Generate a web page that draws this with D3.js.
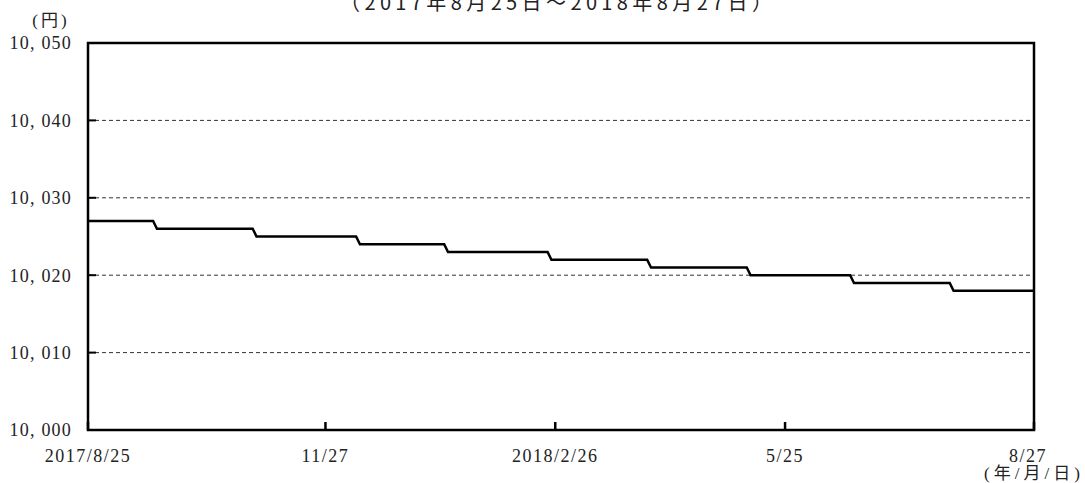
<!DOCTYPE html>
<html lang="ja">
<head>
    <meta charset="UTF-8">
    <title>基準価額の推移</title>
    <script src="https://d3js.org/d3.v7.min.js"></script>
    <style>
        body {
            margin: 0;
            padding: 0;
            background: #fff;
        }
        svg text {
            font-family: "Liberation Serif", "Noto Sans CJK JP", serif;
            fill: #222;
        }
    </style>
</head>
<body>
    <svg width="1085" height="483"></svg>
    <script>
        // 営業日ベース（2017/8/25 = 0 ... 2018/8/27 = 247）
        const lastDay = 247;
        const tickDays = [0, 62, 122, 182, 247];
        const tickLabels = ["2017/8/25", "11/27", "2018/2/26", "5/25", "8/27"];
        const yTicks = [10000, 10010, 10020, 10030, 10040, 10050];
        // 基準価額が変わった営業日と、その価額
        const stepDays = [0, 18, 44, 71, 94, 121, 147, 173, 200, 226];
        const stepValues = [10027, 10026, 10025, 10024, 10023, 10022, 10021, 10020, 10019, 10018];

        const svg = d3.select("svg"),
              margin = {top: 43, right: 51, bottom: 53, left: 88},
              width = +svg.attr("width") - margin.left - margin.right,
              height = +svg.attr("height") - margin.top - margin.bottom,
              g = svg.append("g").attr("transform", `translate(${margin.left},${margin.top})`);

        const x = d3.scaleLinear().domain([0, lastDay]).range([0, width]);
        const y = d3.scaleLinear().domain([10000, 10050]).range([height, 0]);

        // 点線のグリッド
        g.selectAll(".grid")
         .data(yTicks.slice(1, -1))
         .join("line")
         .attr("x1", 0)
         .attr("x2", width)
         .attr("y1", d => y(d))
         .attr("y2", d => y(d))
         .attr("stroke", "#333")
         .attr("stroke-width", 1)
         .attr("stroke-dasharray", "4,3");

        // 左の内向き目盛り
        g.selectAll(".ytick")
         .data(yTicks)
         .join("line")
         .attr("x1", 0)
         .attr("x2", 8)
         .attr("y1", d => y(d))
         .attr("y2", d => y(d))
         .attr("stroke", "#000")
         .attr("stroke-width", 2);

        // 下の内向き目盛り
        g.selectAll(".xtick")
         .data(tickDays)
         .join("line")
         .attr("x1", d => x(d))
         .attr("x2", d => x(d))
         .attr("y1", height)
         .attr("y2", height - 8)
         .attr("stroke", "#000")
         .attr("stroke-width", 2.5);

        // 階段状の線（価額が変わる日は1営業日で斜めに下がる）
        const pts = [];
        stepDays.forEach((d, i) => {
            pts.push([d, stepValues[i]]);
            const next = i + 1 < stepDays.length ? stepDays[i + 1] - 1 : lastDay;
            pts.push([next, stepValues[i]]);
        });
        g.append("path")
         .datum(pts)
         .attr("fill", "none")
         .attr("stroke", "#000")
         .attr("stroke-width", 2.5)
         .attr("d", d3.line().x(d => x(d[0])).y(d => y(d[1])));

        // 枠
        g.append("rect")
         .attr("x", 0)
         .attr("y", 0)
         .attr("width", width)
         .attr("height", height)
         .attr("fill", "none")
         .attr("stroke", "#000")
         .attr("stroke-width", 2.5);

        // y軸ラベル
        const fmt = v => d3.format(",")(v).replace(",", ", ");
        svg.selectAll(".ylabel")
           .data(yTicks)
           .join("text")
           .attr("x", 72)
           .attr("y", d => y(d) + margin.top)
           .attr("dy", "0.35em")
           .attr("text-anchor", "end")
           .attr("letter-spacing", 1.2)
           .style("font-size", "18px")
           .text(fmt);

        svg.append("text")
           .attr("x", 51)
           .attr("y", 26)
           .attr("text-anchor", "middle")
           .attr("letter-spacing", 3)
           .style("font-size", "17px")
           .text("(円)");

        // x軸ラベル
        svg.selectAll(".xlabel")
           .data(tickDays)
           .join("text")
           .attr("x", (d, i) => x(d) + margin.left + (i === tickDays.length - 1 ? -6 : 0))
           .attr("y", 462)
           .attr("text-anchor", "middle")
           .attr("letter-spacing", 1.5)
           .style("font-size", "18px")
           .text((d, i) => tickLabels[i]);

        svg.append("text")
           .attr("x", 1034)
           .attr("y", 479)
           .attr("text-anchor", "middle")
           .attr("letter-spacing", 4)
           .style("font-size", "17px")
           .text("(年/月/日)");

        // タイトル（上が切れている）
        svg.append("text")
           .attr("x", 340)
           .attr("y", 10)
           .attr("textLength", 432)
           .attr("lengthAdjust", "spacing")
           .style("font-family", "'Noto Sans CJK JP', sans-serif")
           .style("font-size", "20px")
           .text("（2017年8月25日～2018年8月27日）");
    </script>
</body>
</html>
